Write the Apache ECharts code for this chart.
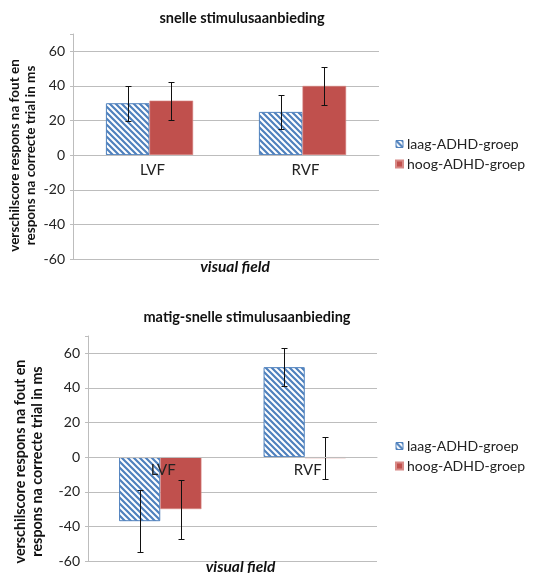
<!DOCTYPE html>
<html><head><meta charset="utf-8">
<script src="https://cdn.jsdelivr.net/npm/echarts@6/dist/echarts.min.js"></script>
<style>html,body{margin:0;padding:0;background:#fff}#c{width:536px;height:573px}</style>
</head><body><div id="c"></div>
<script>
const categories = ['LVF', 'RVF'];
const seriesNames = ['laag-ADHD-groep', 'hoog-ADHD-groep'];
const titles = ['snelle stimulusaanbieding', 'matig-snelle stimulusaanbieding'];
const yName = 'verschilscore respons na fout en\nrespons na correcte trial in ms';
const xName = 'visual field';
const yMin = -60, yMax = 70, yStep = 20;
// top chart: snelle stimulusaanbieding
const fastLow = [30, 25];
const fastLowErr = [10, 10];
const fastHigh = [31.5, 40];
const fastHighErr = [11, 11];
// bottom chart: matig-snelle stimulusaanbieding
const modLow = [-37, 52];
const modLowErr = [18, 11];
const modHigh = [-30, -0.6];
const modHighErr = [17, 12];

const FONT = 'Lato';
const GRID_COLOR = '#bdbdbd';
const BLUE = '#4f81bd';
const RED = '#c0504d';
const W = 536, H = 573;
const grids = [
  {left: 73, right: 157, top: 34, bottom: 314},
  {left: 88, right: 159, top: 336, bottom: 12}
];

function makeStripes() {
  const s = 6;
  const c = document.createElement('canvas');
  c.width = s; c.height = s;
  const g = c.getContext('2d');
  g.fillStyle = '#fff'; g.fillRect(0, 0, s, s);
  g.strokeStyle = BLUE; g.lineWidth = 2.2;
  g.beginPath();
  for (const k of [-s, 0, s]) {
    g.moveTo(-1, -1 + k); g.lineTo(s + 1, s + 1 + k);
  }
  g.stroke();
  return c;
}
const stripe = {image: makeStripes(), repeat: 'repeat'};

function errSeries(gi, vals, errs, side) {
  return {
    type: 'custom', xAxisIndex: gi, yAxisIndex: gi, silent: true, z: 10,
    data: categories.map((c, i) => [i, vals[i], errs[i]]),
    encode: {x: 0, y: 1},
    renderItem(params, api) {
      const i = api.value(0), v = api.value(1), e = api.value(2);
      const band = api.size([1, 0])[0];
      const bw = band * 0.285;
      const cx = Math.round(api.coord([i, v])[0] + side * bw / 2) + 0.5;
      const yT = Math.round(api.coord([i, v + e])[1]) + 0.5;
      const yB = Math.round(api.coord([i, v - e])[1]) + 0.5;
      const cap = 3;
      const st = {stroke: '#111', lineWidth: 1};
      return {type: 'group', children: [
        {type: 'line', shape: {x1: cx, y1: yT, x2: cx, y2: yB}, style: st},
        {type: 'line', shape: {x1: cx - cap, y1: yT, x2: cx + cap, y2: yT}, style: st},
        {type: 'line', shape: {x1: cx - cap, y1: yB, x2: cx + cap, y2: yB}, style: st}
      ]};
    }
  };
}

function yAxis(gi, gap, fs, lh, pad) {
  return {
    type: 'value', gridIndex: gi, min: yMin, max: yMax, interval: yStep,
    axisLine: {show: true, lineStyle: {color: GRID_COLOR}},
    axisTick: {show: true, length: 3, lineStyle: {color: GRID_COLOR}},
    splitLine: {show: true, showMaxLine: false, lineStyle: {color: GRID_COLOR}},
    axisLabel: {fontSize: 14, color: '#222', fontFamily: FONT, margin: 8,
      formatter: v => (v === yMax ? '' : String(v))},
    name: yName, nameLocation: 'middle', nameRotate: 90, nameGap: gap, nameMoveOverlap: false,
    nameTextStyle: {fontSize: fs, fontWeight: 'bold', color: '#111', fontFamily: FONT,
      lineHeight: lh, align: 'center', padding: pad}
  };
}
function xAxis(gi, nameGap, namePad, labMargin) {
  const g = grids[gi];
  const h = H - g.top - g.bottom;
  const zeroOffset = -h * (0 - yMin) / (yMax - yMin);
  return {
    type: 'category', gridIndex: gi, data: categories, position: 'bottom', offset: zeroOffset,
    z: 20,
    axisLine: {show: true, onZero: false, lineStyle: {color: GRID_COLOR}},
    axisTick: {show: false},
    axisLabel: {fontSize: 15, color: '#222', fontFamily: FONT, margin: labMargin, padding: [0, 0, 0, 6]},
    name: xName, nameLocation: 'middle', nameGap: nameGap, nameMoveOverlap: false,
    nameTextStyle: {fontSize: 15.5, fontWeight: 'bold', fontStyle: 'italic', color: '#111',
      fontFamily: FONT, padding: namePad}
  };
}
function bar(gi, name, data, color) {
  return {
    type: 'bar', name: name, xAxisIndex: gi, yAxisIndex: gi, data: data,
    barGap: '0%', barCategoryGap: '43%',
    itemStyle: color === 'blue'
      ? {color: stripe, borderColor: BLUE, borderWidth: 1}
      : {color: RED, borderColor: '#d88a87', borderWidth: 0.6},
    emphasis: {disabled: true}
  };
}
function legend(top) {
  return {
    data: [{name: seriesNames[0], itemStyle: {color: stripe, borderColor: BLUE, borderWidth: 1}},
           {name: seriesNames[1]}],
    orient: 'vertical', left: 395, top: top, padding: 0,
    itemWidth: 7, itemHeight: 7, itemGap: 4,
    icon: 'rect',
    textStyle: {fontSize: 14, color: '#222', fontFamily: FONT, lineHeight: 16, padding: [0, 0, 0, -1]}
  };
}

const chart = echarts.init(document.getElementById('c'), null, {renderer: 'canvas'});
chart.setOption({
  backgroundColor: '#fff',
  animation: false,
  title: [
    {text: titles[0], left: 242, top: 18, textAlign: 'center', textVerticalAlign: 'middle', padding: 0,
     textStyle: {fontSize: 14.5, fontWeight: 'bold', color: '#111', fontFamily: FONT}},
    {text: titles[1], left: 247, top: 317, textAlign: 'center', textVerticalAlign: 'middle', padding: 0,
     textStyle: {fontSize: 14.5, fontWeight: 'bold', color: '#111', fontFamily: FONT}}
  ],
  legend: [legend(136), legend(438)],
  grid: grids.map(g => Object.assign({containLabel: false, outerBoundsMode: 'none'}, g)),
  xAxis: [xAxis(0, 104, [0, 0, 0, 18], 8), xAxis(1, 102, [0, 0, 0, 16], 6)],
  yAxis: [yAxis(0, 34, 13.5, 16.5, [0, 18, 0, 0]), yAxis(1, 42, 14.3, 17, [0, 26, 0, 0])],
  series: [
    bar(0, seriesNames[0], fastLow, 'blue'),
    bar(0, seriesNames[1], fastHigh, 'red'),
    bar(1, seriesNames[0], modLow, 'blue'),
    bar(1, seriesNames[1], modHigh, 'red'),
    errSeries(0, fastLow, fastLowErr, -1),
    errSeries(0, fastHigh, fastHighErr, 1),
    errSeries(1, modLow, modLowErr, -1),
    errSeries(1, modHigh, modHighErr, 1)
  ]
});
</script>
</body></html>
